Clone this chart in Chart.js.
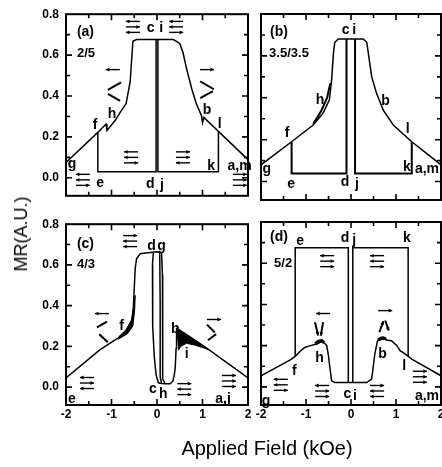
<!DOCTYPE html>
<html><head><meta charset="utf-8">
<script src="https://cdn.jsdelivr.net/npm/chart.js@4.4.1/dist/chart.umd.min.js"></script>
<style>
html,body{margin:0;padding:0;background:#fff;overflow:hidden;width:442px;height:467px;position:relative;}
canvas{position:absolute;}
.lbl{position:absolute;font-family:"Liberation Sans",Arial,sans-serif;color:#000;white-space:nowrap;line-height:1;}
</style></head><body>
<canvas id="pa" width="256" height="210" style="left:0px;top:0px;width:256px;height:210px"></canvas>
<canvas id="pb" width="200" height="210" style="left:250px;top:0px;width:200px;height:210px"></canvas>
<canvas id="pc" width="262" height="257" style="left:0px;top:210px;width:262px;height:257px"></canvas>
<canvas id="pd" width="200" height="257" style="left:250px;top:210px;width:200px;height:257px"></canvas>
<div class="lbl" id="ylab" style="left:21px;top:234px;font-size:18px;transform:translate(-50%,-50%) rotate(-90deg);">MR(A.U.)</div>
<div class="lbl" id="xlab" style="left:267px;top:438px;font-size:20px;transform:translateX(-50%);">Applied Field (kOe)</div>
<script>
// ---------- tick labels ----------
const xTickLabels = [-2, -1, 0, 1, 2];
const yTickLabels = [0.0, 0.2, 0.4, 0.6, 0.8];
const xMinorTicks = [-1.5, -1, -0.5, 0, 0.5, 1, 1.5];
const yMinorTicks = [0, 0.1, 0.2, 0.3, 0.4, 0.5, 0.6, 0.7];

// ---------- panel (a) 2/5 ----------
const aMainX = [-2, -1.3, -1.12, -1.10, -0.92, -0.81, -0.68, -0.59, -0.556, -0.53, -0.45, 0.36, 0.5, 0.57, 0.65, 0.76, 0.87, 0.98, 1.0, 1.03, 1.35, 2];
const aMainY = [0.075, 0.222, 0.263, 0.232, 0.28, 0.32, 0.362, 0.47, 0.58, 0.668, 0.676, 0.676, 0.657, 0.614, 0.533, 0.438, 0.359, 0.303, 0.27, 0.295, 0.227, 0.089];
const aDownX = [-1.3, -1.3, -0.02, -0.02];
const aDownY = [0.222, 0.03, 0.03, 0.676];
const aUpX = [0.02, 0.02, 1.35, 1.35];
const aUpY = [0.676, 0.03, 0.03, 0.227];

// ---------- panel (b) 3.5/3.5 ----------
const bMainX = [-2, -1.32, -0.84, -0.62, -0.48, -0.43, -0.39, -0.36, -0.28, 0.27, 0.35, 0.385, 0.46, 0.57, 0.72, 0.94, 1.35, 2];
const bMainY = [0.08, 0.19, 0.27, 0.327, 0.39, 0.486, 0.613, 0.665, 0.681, 0.681, 0.665, 0.613, 0.50, 0.42, 0.34, 0.27, 0.19, 0.08];
const bTwinX = [-0.84, -0.66, -0.53, -0.46];
const bTwinY = [0.275, 0.338, 0.40, 0.47];
const bDownX = [-1.32, -1.32, -0.1, -0.1];
const bDownY = [0.19, 0.038, 0.038, 0.681];
const bUpX = [0.09, 0.09, 1.35, 1.35];
const bUpY = [0.681, 0.038, 0.038, 0.19];

// ---------- panel (c) 4/3 ----------
const cMainX = [-2, -1.25, -0.86, -0.67, -0.556, -0.52, -0.5, -0.48, -0.45, -0.37, -0.2, 0, 0.1, 0.12, 0.12, 0.13, 0.17];
const cMainY = [0.045, 0.184, 0.24, 0.273, 0.32, 0.387, 0.484, 0.58, 0.63, 0.655, 0.66, 0.665, 0.66, 0.55, 0.1, 0.04, 0.02];
const cMidX = [0.06, 0.07, 0.07, 0.1];
const cMidY = [0.66, 0.4, 0.05, 0.02];
const cLoopX = [-0.08, -0.1, -0.1, -0.09, -0.06, -0.02, 0.03, 0.1, 0.2, 0.29, 0.35, 0.38, 0.4, 0.42, 0.43];
const cLoopY = [0.66, 0.6, 0.48, 0.3, 0.15, 0.06, 0.021, 0.018, 0.016, 0.016, 0.03, 0.06, 0.094, 0.19, 0.29];
const cRightX = [0.43, 0.6, 0.8, 1.1, 2];
const cRightY = [0.29, 0.265, 0.235, 0.19, 0.045];
const cWedgeX = [0.42, 0.6, 0.85, 1.12, 0.85, 0.65, 0.52, 0.47];
const cWedgeY = [0.29, 0.262, 0.228, 0.185, 0.205, 0.215, 0.2, 0.18];
const cFBandX = [-0.85, -0.65, -0.53, -0.49, -0.48, -0.51, -0.56, -0.68, -0.85];
const cFBandY = [0.235, 0.262, 0.30, 0.38, 0.45, 0.40, 0.33, 0.282, 0.245];

// ---------- panel (d) 5/2 ----------
const dMainX = [-2, -1.36, -1.24, -1.1, -1.02, -0.9, -0.76, -0.65, -0.58, -0.54, -0.5, -0.47, -0.43, -0.36, 0.35, 0.46, 0.53, 0.59, 0.72, 0.82, 0.9, 1.02, 1.09, 1.2, 1.35, 2];
const dMainY = [0.054, 0.13, 0.148, 0.179, 0.192, 0.2, 0.208, 0.22, 0.21, 0.2, 0.15, 0.094, 0.029, 0.021, 0.021, 0.038, 0.16, 0.224, 0.233, 0.226, 0.224, 0.2, 0.176, 0.16, 0.135, 0.054];
const dHumpLX = [-0.8, -0.72, -0.65, -0.6];
const dHumpLY = [0.21, 0.222, 0.225, 0.215];
const dHumpRX = [0.6, 0.66, 0.72, 0.78];
const dHumpRY = [0.228, 0.236, 0.238, 0.232];
const dLeftRectX = [-1.24, -1.24, -0.06, -0.06];
const dLeftRectY = [0.148, 0.675, 0.675, 0.021];
const dRightRectX = [0.04, 0.04, 1.27, 1.27];
const dRightRectY = [0.021, 0.675, 0.675, 0.15];

// ---------- helpers ----------
function pts(xs, ys) { return xs.map((x, i) => ({ x: x, y: ys[i] })); }
function curve(xs, ys, w) {
  return { data: pts(xs, ys), borderColor: '#000', borderWidth: w || 1.5, pointRadius: 0, fill: false, tension: 0 };
}
function band(xs, ys) {
  return { data: pts(xs, ys), borderColor: '#000', borderWidth: 1, pointRadius: 0, fill: 'shape', backgroundColor: '#000', tension: 0 };
}

// ---------- annotations (data coordinates) ----------
const notes = {
  pa: {
    texts: [['(a)', -1.76, 0.714, 'left', 14], ['2/5', -1.76, 0.61, 'left', 13], ['c', -0.14, 0.73], ['i', 0.09, 0.73], ['h', -0.99, 0.31], ['f', -1.36, 0.257], ['g', -1.87, 0.067], ['e', -1.25, -0.024], ['d', -0.15, -0.03], ['j', 0.11, -0.038], ['b', 1.1, 0.33], ['l', 1.38, 0.26], ['k', 1.19, 0.057], ['a,m', 1.55, 0.057, 'left']],
    stacks: [[-0.53, 0.738, 'lrl'], [0.42, 0.738, 'llr'], [-0.57, 0.1, 'llr'], [0.57, 0.1, 'rrl'], [-1.63, -0.01, 'llr'], [1.82, -0.01, 'rrr']],
    singles: [[-0.97, 0.529, 'l'], [1.1, 0.529, 'r']],
    segs: [[-1.08, 0.43, -0.79, 0.467, 0], [-1.08, 0.41, -0.81, 0.376, 0], [0.95, 0.471, 1.25, 0.433, 0], [0.95, 0.39, 1.23, 0.424, 0]]
  },
  pb: {
    texts: [['(b)', -1.8, 0.714, 'left', 14], ['3.5/3.5', -1.82, 0.614, 'left', 13], ['c', -0.12, 0.724], ['i', 0.07, 0.724], ['h', -0.69, 0.39], ['b', 0.77, 0.386], ['f', -1.42, 0.233], ['l', 1.26, 0.248], ['g', -1.87, 0.057], ['e', -1.33, -0.014], ['d', -0.13, -0.005], ['j', 0.13, -0.014], ['k', 1.24, 0.071], ['a,m', 1.42, 0.057, 'left']],
    stacks: [], singles: [], segs: []
  },
  pc: {
    texts: [['(c)', -1.76, 0.70, 'left', 14], ['4/3', -1.76, 0.60, 'left', 13], ['d', -0.12, 0.693], ['g', 0.1, 0.693], ['f', -0.78, 0.30], ['b', 0.40, 0.283], ['i', 0.65, 0.161], ['c', -0.09, -0.01], ['h', 0.14, -0.034], ['e', -1.87, -0.059], ['a,j', 1.28, -0.059, 'left']],
    stacks: [[-0.59, 0.717, 'rll'], [-1.54, 0.02, 'lrl'], [1.58, 0.03, 'rrr'], [0.6, -0.01, 'rlr']],
    singles: [[-1.21, 0.361, 'l'], [1.25, 0.332, 'r']],
    segs: [[-1.32, 0.293, -1.1, 0.322, 0], [-1.27, 0.259, -1.08, 0.22, 0], [1.1, 0.307, 1.27, 0.268, 0], [1.12, 0.23, 1.3, 0.26, 0]]
  },
  pd: {
    texts: [['(d)', -1.8, 0.728, 'left', 14], ['5/2', -1.71, 0.6, 'left', 13], ['e', -1.13, 0.709], ['d', -0.13, 0.722], ['j', 0.07, 0.712], ['k', 1.24, 0.722], ['h', -0.7, 0.137], ['b', 0.7, 0.161], ['f', -1.26, 0.078], ['l', 1.18, 0.102], ['g', -1.89, -0.068], ['c', -0.08, -0.036], ['i', 0.09, -0.046], ['a,m', 1.42, -0.046, 'left']],
    stacks: [[-0.53, 0.61, 'lrr'], [0.58, 0.61, 'llr'], [-1.56, 0.01, 'llr'], [-0.64, -0.02, 'lrr'], [0.58, -0.02, 'rll'], [1.53, 0.049, 'rrr']],
    singles: [[-0.62, 0.356, 'l'], [0.76, 0.37, 'r']],
    segs: [[-0.8, 0.314, -0.73, 0.249, 1], [-0.62, 0.314, -0.67, 0.249, 1], [0.63, 0.265, 0.72, 0.319, 1], [0.76, 0.322, 0.84, 0.273, 1]]
  }
};

function arrow(ctx, x1, y1, x2, y2, head) {
  ctx.beginPath(); ctx.moveTo(x1, y1); ctx.lineTo(x2, y2); ctx.stroke();
  if (head) {
    const ang = Math.atan2(y2 - y1, x2 - x1), h = 4;
    ctx.beginPath();
    ctx.moveTo(x2, y2);
    ctx.lineTo(x2 - h * Math.cos(ang - 0.5), y2 - h * Math.sin(ang - 0.5));
    ctx.lineTo(x2 - h * Math.cos(ang + 0.5), y2 - h * Math.sin(ang + 0.5));
    ctx.closePath(); ctx.fill();
  }
}

const decorPlugin = {
  id: 'panelDecor',
  afterDatasetsDraw(chart) {
    const ctx = chart.ctx, a = chart.chartArea, xs = chart.scales.x, ys = chart.scales.y;
    const n = notes[chart.canvas.id];
    ctx.save();
    ctx.strokeStyle = '#000'; ctx.fillStyle = '#000';
    ctx.lineWidth = 2;
    ctx.strokeRect(a.left, a.top, a.right - a.left, a.bottom - a.top);
    ctx.lineWidth = 1.6;
    xMinorTicks.forEach(v => {
      const p = xs.getPixelForValue(v), L = Number.isInteger(v) ? 6 : 4;
      ctx.beginPath(); ctx.moveTo(p, a.bottom); ctx.lineTo(p, a.bottom - L);
      ctx.moveTo(p, a.top); ctx.lineTo(p, a.top + L); ctx.stroke();
    });
    yMinorTicks.forEach(v => {
      const p = ys.getPixelForValue(v), L = (Math.round(v * 10) % 2 === 0) ? 6 : 4;
      ctx.beginPath(); ctx.moveTo(a.left, p); ctx.lineTo(a.left + L, p);
      ctx.moveTo(a.right, p); ctx.lineTo(a.right - L, p); ctx.stroke();
    });
    ctx.textBaseline = 'middle';
    n.texts.forEach(t => {
      ctx.font = 'bold ' + (t[4] || 14) + 'px "Liberation Sans", Arial, sans-serif';
      ctx.textAlign = t[3] || 'center';
      ctx.fillText(t[0], xs.getPixelForValue(t[1]), ys.getPixelForValue(t[2]));
    });
    ctx.lineWidth = 1.4;
    n.stacks.forEach(s => {
      const cx = xs.getPixelForValue(s[0]), cy = ys.getPixelForValue(s[1]);
      for (let i = 0; i < s[2].length; i++) {
        const py = cy + (i - (s[2].length - 1) / 2) * 5.5;
        if (s[2][i] === 'l') arrow(ctx, cx + 7, py, cx - 7, py, true);
        else arrow(ctx, cx - 7, py, cx + 7, py, true);
      }
    });
    n.singles.forEach(s => {
      const cx = xs.getPixelForValue(s[0]), cy = ys.getPixelForValue(s[1]);
      if (s[2] === 'l') arrow(ctx, cx + 7, cy, cx - 7, cy, true);
      else arrow(ctx, cx - 7, cy, cx + 7, cy, true);
    });
    ctx.lineWidth = 2;
    n.segs.forEach(s => {
      arrow(ctx, xs.getPixelForValue(s[0]), ys.getPixelForValue(s[1]), xs.getPixelForValue(s[2]), ys.getPixelForValue(s[3]), s[4]);
    });
    ctx.restore();
  }
};

const tickFont = { family: '"Liberation Sans", Arial, sans-serif', size: 12, weight: 'bold' };

function makePanel(id, datasets, cfg) {
  return new Chart(document.getElementById(id), {
    type: 'line',
    data: { datasets: datasets },
    options: {
      responsive: false, animation: false, events: [], devicePixelRatio: 1,
      layout: { padding: { top: cfg.padTop, right: cfg.padRight, left: 0, bottom: 0 } },
      plugins: { legend: { display: false }, tooltip: { enabled: false } },
      scales: {
        x: {
          type: 'linear', min: -2, max: 2, position: 'bottom',
          grid: { display: false, drawTicks: false }, border: { display: false },
          afterBuildTicks: s => { s.ticks = xTickLabels.map(v => ({ value: v })); },
          afterFit: s => { s.height = cfg.xHeight; },
          ticks: { display: cfg.showX, font: tickFont, color: '#000', padding: 2, maxRotation: 0, autoSkip: false, callback: v => String(v) }
        },
        y: {
          type: 'linear', min: -0.088, max: 0.8, position: 'left',
          grid: { display: false, drawTicks: false }, border: { display: false },
          afterBuildTicks: s => { s.ticks = yTickLabels.map(v => ({ value: v })); },
          afterFit: s => { s.width = cfg.yWidth; },
          ticks: { display: cfg.showY, font: tickFont, color: '#000', padding: 7, autoSkip: false, callback: v => Number(v).toFixed(1) }
        }
      }
    },
    plugins: [decorPlugin]
  });
}

makePanel('pa', [curve(aMainX, aMainY), curve(aDownX, aDownY), curve(aUpX, aUpY)],
  { padTop: 14, padRight: 8, xHeight: 10, yWidth: 66, showX: false, showY: true });
makePanel('pb', [curve(bMainX, bMainY), curve(bTwinX, bTwinY, 2), curve(bDownX, bDownY, 2), curve(bUpX, bUpY, 2)],
  { padTop: 14, padRight: 9, xHeight: 10, yWidth: 11, showX: false, showY: false });
makePanel('pc', [curve(cMainX, cMainY), curve(cMidX, cMidY), curve(cLoopX, cLoopY), curve(cRightX, cRightY), band(cWedgeX, cWedgeY), band(cFBandX, cFBandY)],
  { padTop: 12, padRight: 14, xHeight: 62, yWidth: 66, showX: true, showY: true });
makePanel('pd', [curve(dMainX, dMainY), curve(dHumpLX, dHumpLY, 3), curve(dHumpRX, dHumpRY, 3), curve(dLeftRectX, dLeftRectY), curve(dRightRectX, dRightRectY)],
  { padTop: 12, padRight: 9, xHeight: 62, yWidth: 11, showX: true, showY: false });
</script>
</body></html>
